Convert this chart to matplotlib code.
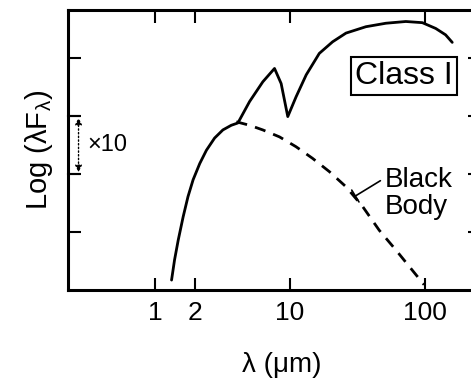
""" Class I SED sketch """

import matplotlib.pyplot as plt
from matplotlib.transforms import blended_transform_factory

plt.rcParams['font.family'] = ['Liberation Sans', 'DejaVu Sans']

# observed spectrum, wavelength in micron and log(lambda F_lambda) in decades
sed_wave = [1.33, 1.40, 1.49, 1.62, 1.76, 1.92, 2.15, 2.41, 2.77, 3.19,
            3.68, 4.12, 5.03, 6.30, 7.69, 8.61, 9.64, 11.1, 13.2, 16.5,
            20.7, 26.0, 36.5, 51.3, 72.1, 95.5, 120, 142, 159]
sed_flux = [0.17, 0.52, 0.86, 1.26, 1.61, 1.90, 2.18, 2.41, 2.62, 2.76,
            2.84, 2.88, 3.25, 3.59, 3.82, 3.56, 2.99, 3.33, 3.71, 4.08,
            4.28, 4.43, 4.54, 4.60, 4.63, 4.61, 4.51, 4.40, 4.27]

# black body fit
bb_wave = [4.01, 5.03, 6.30, 8.37, 11.1, 14.7, 19.6, 26.0, 34.5, 45.8,
           60.8, 80.5, 98.4]
bb_flux = [2.90, 2.84, 2.76, 2.64, 2.47, 2.27, 2.04, 1.78, 1.44, 1.03,
           0.69, 0.34, 0.09]

x_ticks = [1, 2, 10, 100]
x_labels = ['1', '2', '10', '100']
y_ticks = [1, 2, 3, 4]

fig = plt.figure(figsize=(4.71, 3.81), dpi=100)
ax = fig.add_axes([0.144, 0.239, 0.875, 0.735])

ax.plot(sed_wave, sed_flux, color='black', lw=2.0, solid_joinstyle='round',
        solid_capstyle='round')
ax.plot(bb_wave, bb_flux, color='black', lw=2.0, linestyle=(0, (4, 3)))

ax.set_xscale('log')
ax.set_xlim(0.227, 255)
ax.set_ylim(0, 4.83)

ax.set_xticks(x_ticks)
ax.set_xticklabels(x_labels)
ax.xaxis.set_minor_locator(plt.NullLocator())
ax.set_yticks(y_ticks)
ax.set_yticklabels([])
ax.tick_params(direction='in', length=9, width=1.5, top=True, right=True,
               labelsize=19, pad=8)
for s in ax.spines.values():
    s.set_linewidth(2.2)

ax.set_xlabel('λ (μm)', fontsize=20)
ax.xaxis.set_label_coords(0.52, -0.22)
ax.set_ylabel(r'Log ($\mathregular{\lambda F_\lambda}$)', fontsize=21)
ax.yaxis.set_label_coords(-0.03, 0.5)

# x10 bracket on the left axis
tr = blended_transform_factory(ax.transAxes, ax.transData)
ax.plot([0, 0.028], [3, 3], color='black', lw=1.5, transform=tr, clip_on=False)
ax.plot([0, 0.028], [2, 2], color='black', lw=1.5, transform=tr, clip_on=False)
ax.annotate('', xy=(0.026, 2.97), xytext=(0.026, 2.03), xycoords=tr, textcoords=tr,
            arrowprops=dict(arrowstyle='<|-|>,head_length=0.4,head_width=0.2',
                            lw=1.0, ls=':', color='black', shrinkA=0, shrinkB=0))
ax.text(0.048, 2.5, '×10', transform=tr, fontsize=17, va='center', ha='left')

ax.text(70, 3.69, 'Class I', fontsize=23, ha='center', va='center',
        bbox=dict(boxstyle='square,pad=0.14', fc='white', ec='black', lw=1.5))

ax.annotate('Black\nBody', xy=(30.5, 1.62), xytext=(50, 1.67), fontsize=20,
            ha='left', va='center', linespacing=1.05,
            arrowprops=dict(arrowstyle='-[,widthB=0.25,lengthB=0', lw=1.2,
                            color='black', shrinkA=1, shrinkB=0,
                            relpos=(0, 0.78)))

fig.savefig('out.png')
